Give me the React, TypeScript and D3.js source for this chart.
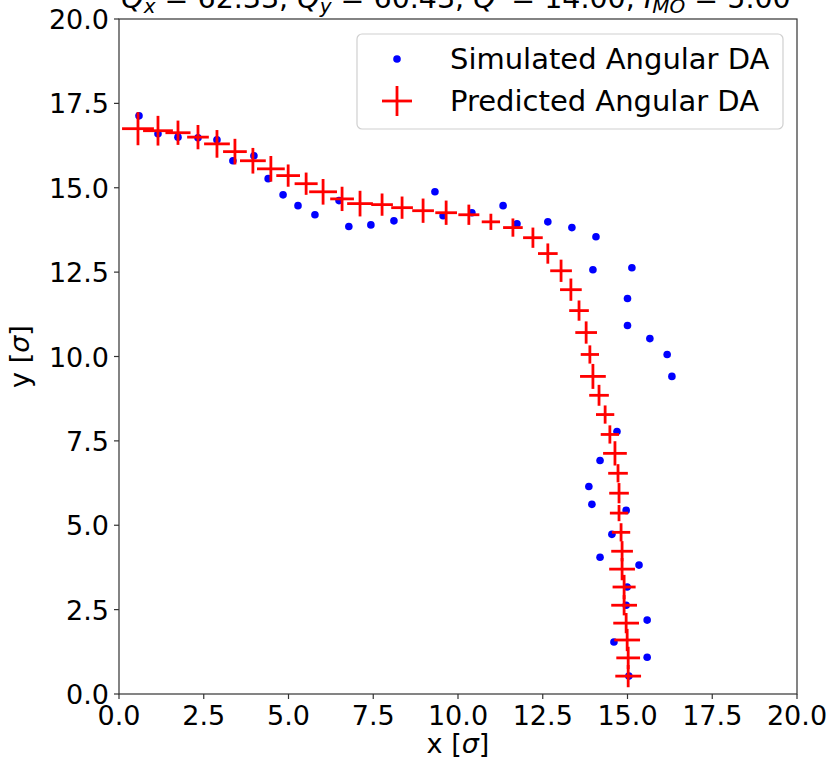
import React from 'react';
import * as d3 from 'd3';

// Simulated angular DA (blue dots)
const simX = [0.59, 1.15, 1.74, 2.33, 2.89, 3.36, 3.98, 4.4, 4.84, 5.28, 5.78, 6.49, 6.78, 7.43, 8.11,
  9.32, 9.56, 10.41, 11.33, 11.74, 12.65, 13.36, 14.07, 13.98, 15.13, 15.0, 15.0, 15.66, 16.17, 16.31,
  14.69, 14.19, 13.86, 13.95, 14.96, 14.54, 14.19, 15.34, 14.99, 14.96, 15.58, 14.6, 15.58, 15.04];
const simY = [17.13, 16.6, 16.5, 16.48, 16.42, 15.8, 15.95, 15.27, 14.79, 14.47, 14.2, 14.62, 13.85, 13.9, 14.02,
  14.88, 14.17, 14.26, 14.47, 13.93, 13.99, 13.82, 13.55, 12.57, 12.63, 11.72, 10.92, 10.53, 10.06, 9.41,
  7.78, 6.92, 6.15, 5.62, 5.44, 4.73, 4.05, 3.82, 3.17, 2.63, 2.19, 1.54, 1.09, 0.53];

// Predicted angular DA (red error bars)
const predX = [0.56, 1.15, 1.74, 2.33, 2.89, 3.42, 3.95, 4.48, 4.99, 5.52, 6.02, 6.58, 7.11, 7.76, 8.35,
  8.97, 9.65, 10.32, 10.97, 11.62, 12.21, 12.65, 13.04, 13.33, 13.57, 13.78, 13.89, 13.98, 14.16, 14.34,
  14.48, 14.63, 14.72, 14.75, 14.75, 14.81, 14.84, 14.84, 14.9, 14.9, 14.96, 14.99, 15.02, 15.02];
const predY = [16.75, 16.69, 16.63, 16.5, 16.3, 16.07, 15.8, 15.56, 15.36, 15.12, 14.88, 14.67, 14.53, 14.5, 14.41,
  14.32, 14.26, 14.2, 13.99, 13.82, 13.52, 13.05, 12.54, 11.98, 11.36, 10.71, 10.06, 9.41, 8.85, 8.28,
  7.69, 7.13, 6.54, 5.95, 5.36, 4.79, 4.23, 3.7, 3.17, 2.63, 2.1, 1.6, 1.07, 0.53];
const predXErr = [0.47, 0.44, 0.37, 0.32, 0.38, 0.35, 0.38, 0.41, 0.35, 0.34, 0.41, 0.35, 0.38, 0.32, 0.32,
  0.32, 0.32, 0.31, 0.27, 0.29, 0.29, 0.29, 0.32, 0.32, 0.29, 0.32, 0.27, 0.38, 0.29, 0.27,
  0.27, 0.35, 0.29, 0.29, 0.27, 0.27, 0.32, 0.38, 0.34, 0.38, 0.38, 0.38, 0.35, 0.38];
const predYErr = [0.49, 0.44, 0.36, 0.36, 0.41, 0.38, 0.38, 0.38, 0.33, 0.33, 0.38, 0.36, 0.38, 0.33, 0.33,
  0.36, 0.36, 0.3, 0.24, 0.27, 0.3, 0.3, 0.33, 0.33, 0.3, 0.33, 0.27, 0.37, 0.31, 0.27,
  0.27, 0.36, 0.27, 0.3, 0.24, 0.27, 0.3, 0.33, 0.36, 0.3, 0.3, 0.33, 0.33, 0.33];

const ticks = [0, 2.5, 5, 7.5, 10, 12.5, 15, 17.5, 20];
const legendLabels = ['Simulated Angular DA', 'Predicted Angular DA'];

const W = 833;
const H = 764;
const FONT = 'DejaVu Sans';

export default function App() {
  const x = d3.scaleLinear().domain([0, 20]).range([119, 797]);
  const y = d3.scaleLinear().domain([0, 20]).range([694, 19]);
  const fmt = d3.format('.1f');
  const sim = simX.map((v, i) => ({ x: v, y: simY[i] }));
  const pred = predX.map((v, i) => ({ x: v, y: predY[i], xe: predXErr[i], ye: predYErr[i] }));
  const [x0, x1] = x.range();
  const [y0, y1] = y.range();

  return (
    <svg width={W} height={H} style={{ position: 'absolute', left: 0, top: 0, background: '#fff' }}
      fontFamily={FONT}>
      {/* title, clipped at the top as in the source */}
      <text x={456} y={8} textAnchor="middle" fontSize={28.5} fill="#000">
        <tspan fontStyle="italic">Q</tspan>
        <tspan fontStyle="italic" fontSize={20} dy={5}>x</tspan>
        <tspan dy={-5}> = 62.33, </tspan>
        <tspan fontStyle="italic">Q</tspan>
        <tspan fontStyle="italic" fontSize={20} dy={5}>y</tspan>
        <tspan dy={-5}> = 60.43, </tspan>
        <tspan fontStyle="italic">Q</tspan>
        <tspan>′ = 14.00, </tspan>
        <tspan fontStyle="italic">I</tspan>
        <tspan fontStyle="italic" fontSize={20} dy={5}>MO</tspan>
        <tspan dy={-5}> = 5.00</tspan>
      </text>

      {/* simulated points */}
      {sim.map((d, i) => (
        <circle key={'s' + i} cx={x(d.x)} cy={y(d.y)} r={3.8} fill="#0000ff" />
      ))}

      {/* predicted error bars */}
      <g stroke="#ff0000" strokeWidth={2.8}>
        {pred.map((d, i) => (
          <g key={'p' + i}>
            <line x1={x(d.x - d.xe)} x2={x(d.x + d.xe)} y1={y(d.y)} y2={y(d.y)} />
            <line x1={x(d.x)} x2={x(d.x)} y1={y(d.y - d.ye)} y2={y(d.y + d.ye)} />
          </g>
        ))}
      </g>

      {/* frame */}
      <rect x={x0} y={y1} width={x1 - x0} height={y0 - y1} fill="none" stroke="#333" strokeWidth={1.2} />

      {/* x ticks */}
      {ticks.map((t) => (
        <g key={'xt' + t}>
          <line x1={x(t)} x2={x(t)} y1={y0} y2={y0 + 5} stroke="#333" strokeWidth={1.2} />
          <text x={x(t)} y={725} textAnchor="middle" fontSize={27} fill="#000">{fmt(t)}</text>
        </g>
      ))}
      {/* y ticks */}
      {ticks.map((t) => (
        <g key={'yt' + t}>
          <line x1={x0 - 5} x2={x0} y1={y(t)} y2={y(t)} stroke="#333" strokeWidth={1.2} />
          <text x={109} y={y(t) + 10} textAnchor="end" fontSize={27} fill="#000">{fmt(t)}</text>
        </g>
      ))}

      <text x={458} y={753} textAnchor="middle" fontSize={27} fill="#000">
        x [<tspan fontStyle="italic">σ</tspan>]
      </text>
      <text transform={`translate(29,${(y0 + y1) / 2}) rotate(-90)`} textAnchor="middle" fontSize={27} fill="#000">
        y [<tspan fontStyle="italic">σ</tspan>]
      </text>

      {/* legend */}
      <rect x={357} y={34} width={426} height={95} rx={5} fill="#fff" fillOpacity={0.8} stroke="#d0d0d0" strokeWidth={1.2} />
      <circle cx={397} cy={59} r={3.8} fill="#0000ff" />
      <g stroke="#ff0000" strokeWidth={2.8}>
        <line x1={382} x2={412} y1={101} y2={101} />
        <line x1={397} x2={397} y1={86} y2={116} />
      </g>
      <text x={450} y={69} fontSize={29} fill="#000">{legendLabels[0]}</text>
      <text x={450} y={111} fontSize={29} fill="#000">{legendLabels[1]}</text>
    </svg>
  );
}
